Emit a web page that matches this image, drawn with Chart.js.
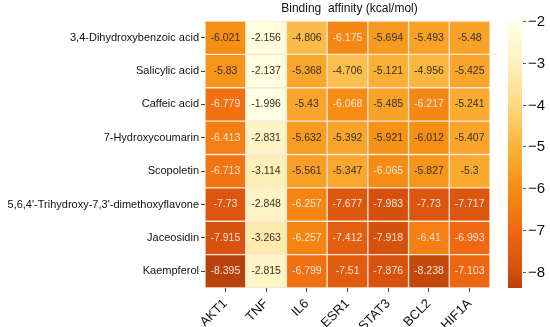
<!DOCTYPE html>
<html>
<head>
<meta charset="utf-8">
<script src="https://cdn.jsdelivr.net/npm/chart.js@4.4.0/dist/chart.umd.min.js"></script>
<style>
  html, body { margin: 0; padding: 0; background: #fff; }
  #wrap { width: 550px; height: 327px; }
</style>
</head>
<body>
<div id="wrap"><canvas id="heat"></canvas></div>
<script>
// data
const compounds = ['3,4-Dihydroxybenzoic acid', 'Salicylic acid', 'Caffeic acid', '7-Hydroxycoumarin',
  'Scopoletin', "5,6,4'-Trihydroxy-7,3'-dimethoxyflavone", 'Jaceosidin', 'Kaempferol'];
const genes = ['AKT1', 'TNF', 'IL6', 'ESR1', 'STAT3', 'BCL2', 'HIF1A'];
const akt1  = [-6.021, -5.83, -6.779, -6.413, -6.713, -7.73, -7.915, -8.395];
const tnf   = [-2.156, -2.137, -1.996, -2.831, -3.114, -2.848, -3.263, -2.815];
const il6   = [-4.806, -5.368, -5.43, -5.632, -5.561, -6.257, -6.257, -6.799];
const esr1  = [-6.175, -4.706, -6.068, -5.392, -5.347, -7.677, -7.412, -7.51];
const stat3 = [-5.694, -5.121, -5.485, -5.921, -6.065, -7.983, -7.918, -7.876];
const bcl2  = [-5.493, -4.956, -6.217, -6.012, -5.827, -7.73, -6.41, -8.238];
const hif1a = [-5.48, -5.425, -5.241, -5.407, -5.3, -7.717, -6.993, -7.103];
const colorTicks = [-2, -3, -4, -5, -6, -7, -8];

const series = [akt1, tnf, il6, esr1, stat3, bcl2, hif1a];
const vMax = -1.996, vMin = -8.395;

// colour ramp (value -> rgb)
const stops = [
  [-1.996, [255, 255, 228]],
  [-3.0,   [254, 241, 190]],
  [-4.0,   [253, 216, 130]],
  [-5.0,   [251, 180, 58]],
  [-6.0,   [246, 143, 20]],
  [-7.0,   [240, 104, 18]],
  [-8.0,   [212, 80, 12]],
  [-8.395, [184, 66, 12]]
];
function colorFor(v) {
  for (let i = 0; i < stops.length - 1; i++) {
    const a = stops[i], b = stops[i + 1];
    if (v <= a[0] && v >= b[0]) {
      const t = (a[0] - v) / (a[0] - b[0]);
      const c = a[1].map((x, k) => Math.round(x + (b[1][k] - x) * t));
      return `rgb(${c[0]},${c[1]},${c[2]})`;
    }
  }
  const c = v > vMax ? stops[0][1] : stops[stops.length - 1][1];
  return `rgb(${c[0]},${c[1]},${c[2]})`;
}

const datasets = genes.map((g, j) => ({
  label: g,
  data: compounds.map((c, r) => ({ x: [j, j + 1], y: c, v: series[j][r] })),
  backgroundColor: ctx => colorFor(ctx.raw.v),
  borderColor: '#fde6d6',
  borderWidth: 1,
  borderSkipped: false,
  barPercentage: 1,
  categoryPercentage: 1,
  grouped: false
}));

// scales add label paddings to the layout; drop them so the plot box is fixed
function noPad(axis) {
  axis.paddingTop = 0; axis.paddingBottom = 0;
  axis.paddingLeft = 0; axis.paddingRight = 0;
}

const extras = {
  id: 'extras',
  afterDatasetsDraw(chart) {
    const { ctx, chartArea } = chart;
    ctx.save();
    // cell values
    ctx.font = '10.5px "Liberation Sans", Arial, sans-serif';
    ctx.textAlign = 'center';
    ctx.textBaseline = 'middle';
    chart.data.datasets.forEach((ds, j) => {
      chart.getDatasetMeta(j).data.forEach((bar, r) => {
        const v = ds.data[r].v;
        ctx.fillStyle = v < -6.04 ? '#fde4dc' : '#3a3020';
        ctx.fillText(String(v), bar.base + (bar.x - bar.base) / 2, bar.y);
      });
    });
    // title
    ctx.fillStyle = '#111';
    ctx.font = '12px "Liberation Sans", Arial, sans-serif';
    ctx.fillText('Binding  affinity (kcal/mol)', (chartArea.left + chartArea.right) / 2 + 2, 9);
    // colour bar, spanning the plot height from vMax (top) to vMin (bottom)
    const x0 = chartArea.right + 18, w = 14;
    const yTop = chartArea.top, yBot = chartArea.bottom;
    const yOf = v => yTop + (vMax - v) / (vMax - vMin) * (yBot - yTop);
    const grad = ctx.createLinearGradient(0, yTop, 0, yBot);
    for (let k = 0; k <= 40; k++) {
      const v = vMax + (vMin - vMax) * k / 40;
      grad.addColorStop(k / 40, colorFor(v));
    }
    ctx.fillStyle = grad;
    ctx.fillRect(x0, yTop, w, yBot - yTop);
    ctx.strokeStyle = '#555';
    ctx.lineWidth = 1;
    ctx.fillStyle = '#111';
    ctx.font = '15px "Liberation Sans", Arial, sans-serif';
    ctx.textAlign = 'left';
    colorTicks.forEach(t => {
      const y = Math.round(yOf(t)) + 0.5;
      ctx.beginPath();
      ctx.moveTo(x0 + w + 1, y);
      ctx.lineTo(x0 + w + 4, y);
      ctx.stroke();
      ctx.fillText('\u2212' + Math.abs(t), x0 + w + 6, y);
    });
    ctx.restore();
  }
};

new Chart(document.getElementById('heat'), {
  type: 'bar',
  data: { labels: compounds, datasets },
  options: {
    indexAxis: 'y',
    responsive: true,
    maintainAspectRatio: false,
    animation: false,
    layout: { autoPadding: false, padding: { top: 21, bottom: 0, left: 0, right: 60 } },
    plugins: { legend: { display: false }, tooltip: { enabled: false } },
    scales: {
      x: {
        type: 'linear',
        min: 0,
        max: 7,
        afterBuildTicks: axis => { axis.ticks = genes.map((g, j) => ({ value: j + 0.5 })); },
        afterFit: axis => { axis.height = 39; noPad(axis); },
        border: { display: false },
        grid: { drawOnChartArea: false, tickLength: 4, color: '#444' },
        ticks: {
          autoSkip: false,
          minRotation: 45,
          maxRotation: 45,
          padding: 4,
          color: '#111',
          font: { size: 13, family: '"Liberation Sans", Arial, sans-serif' },
          callback: (val, i) => genes[i]
        }
      },
      y: {
        type: 'category',
        afterFit: axis => { axis.width = 205; noPad(axis); },
        border: { display: false },
        grid: { offset: false, drawOnChartArea: false, tickLength: 4, color: '#444' },
        ticks: {
          padding: 2,
          color: '#111',
          font: { size: 11, family: '"Liberation Sans", Arial, sans-serif' }
        }
      }
    }
  },
  plugins: [extras]
});
</script>
</body>
</html>
